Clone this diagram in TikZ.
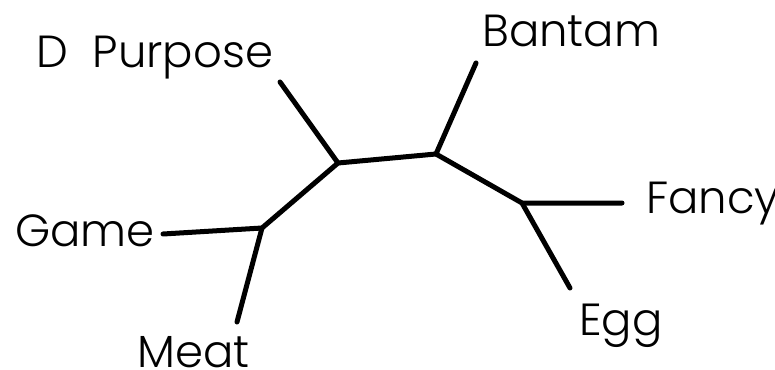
\documentclass[tikz,border=0pt]{standalone}
\usepackage{fontspec}
\setmainfont{Poppins Light}
\begin{document}
\begin{tikzpicture}[x=1pt,y=-1pt,
  edge/.style={line width=5pt,line cap=round,line join=round},
  lbl/.style={inner sep=0pt,anchor=base west,font=\fontsize{45}{50}\selectfont}]
\useasboundingbox (0,0) rectangle (775,369);
\coordinate (A) at (262,228);
\coordinate (B) at (338,163);
\coordinate (C) at (436,154);
\coordinate (D) at (522,203);
\coordinate (lgame) at (163,234);
\coordinate (lmeat) at (237,322);
\coordinate (ldp) at (280,82);
\coordinate (lban) at (476,63);
\coordinate (lfan) at (622,203);
\coordinate (legg) at (570,288);
\draw[edge] (lgame) -- (A) -- (lmeat);
\draw[edge] (A) -- (B) -- (ldp);
\draw[edge] (B) -- (C) -- (lban);
\draw[edge] (C) -- (D) -- (lfan);
\draw[edge] (D) -- (legg);
\node[lbl] (tdp) at (36,67) {D\hspace{0.55em}Purpose};
\node[lbl] (tban) at (482,47) {Bantam};
\node[lbl] (tfan) at (646,213) {Fancy};
\node[lbl] (tgame) at (15,246) {Game};
\node[lbl] (tmeat) at (137,367) {Meat};
\node[lbl] (tegg) at (579,335) {Egg};
\end{tikzpicture}
\end{document}
